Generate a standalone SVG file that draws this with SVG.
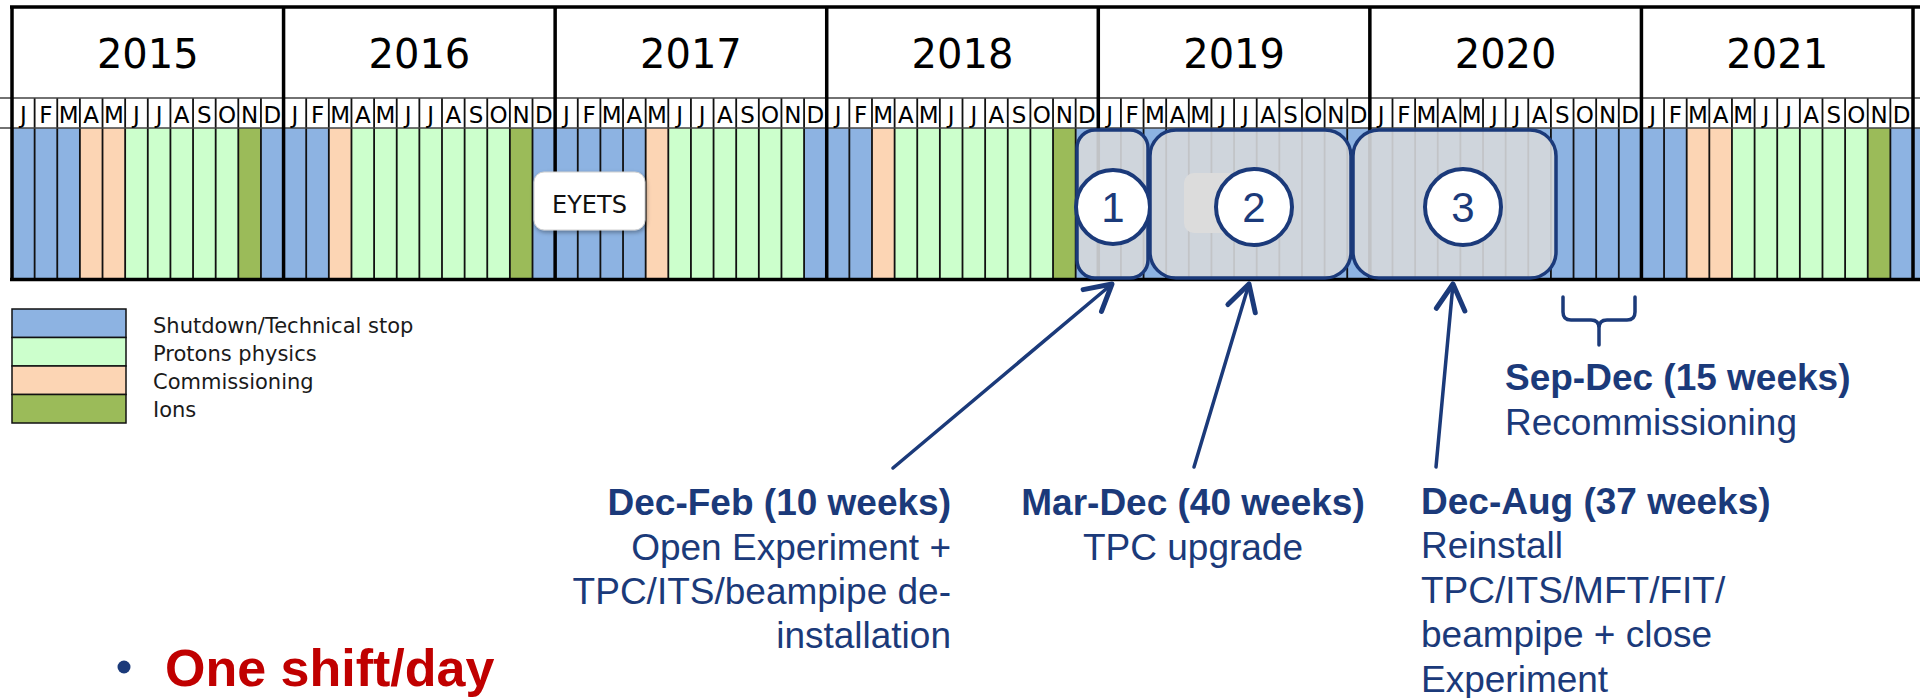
<svg xmlns="http://www.w3.org/2000/svg" width="1920" height="698" viewBox="0 0 1920 698">
<defs>
<style>
.yr{font-family:"DejaVu Sans",Verdana,sans-serif;font-size:40px;text-anchor:middle;fill:#000}
.mo{font-family:"DejaVu Sans",Verdana,sans-serif;font-size:23px;text-anchor:middle;fill:#000}
.lg{font-family:"DejaVu Sans",Verdana,sans-serif;font-size:21px;fill:#1a1a1a}
.lb{font-family:"Liberation Sans",Arial,sans-serif;font-size:37px;fill:#1b3a7a}
.b{font-weight:bold}
.blue{fill:#8db3e2}.grn{fill:#ccffcc}.pch{fill:#fcd5b4}.ion{fill:#9bbb59}
.conn{stroke:#1b3a7a;stroke-width:3.5;fill:none;stroke-linecap:round;stroke-linejoin:round}
.box{fill:#d6d8db;fill-opacity:.9;stroke:#1b3a7a;stroke-width:3.5}
.circ{fill:#fff;stroke:#1b3a7a;stroke-width:4}
.num{font-family:"Liberation Sans",Arial,sans-serif;font-size:42px;text-anchor:middle;fill:#1b3a7a}
</style>
<marker id="arr" markerUnits="userSpaceOnUse" orient="auto" refX="0" refY="0" markerWidth="40" markerHeight="40" viewBox="-22 -14 26 28" overflow="visible">
<path d="M-18 -10L0 0L-18 10" fill="none" stroke="#1b3a7a" stroke-width="3.5" stroke-linecap="round" stroke-linejoin="round"/>
</marker>
<filter id="sh" x="-20%" y="-20%" width="140%" height="150%">
<feDropShadow dx="1" dy="2" stdDeviation="2" flood-color="#000" flood-opacity="0.35"/>
</filter>
</defs>

<g id="timeline">
<rect x="12" y="7" width="1908" height="121" fill="#fff"/>
<rect class="blue" x="12" y="128" width="1908" height="151"/>
<g id="commissioning">
<rect class="pch" x="79.89" y="128" width="45.27" height="151"/>
<rect class="pch" x="328.83" y="128" width="22.64" height="151"/>
<rect class="pch" x="645.67" y="128" width="22.63" height="151"/>
<rect class="pch" x="871.98" y="128" width="22.63" height="151"/>
<rect class="pch" x="1686.69" y="128" width="45.26" height="151"/>
</g>
<g id="protons">
<rect class="grn" x="125.16" y="128" width="113.15" height="151"/>
<rect class="grn" x="351.47" y="128" width="158.41" height="151"/>
<rect class="grn" x="668.30" y="128" width="135.78" height="151"/>
<rect class="grn" x="894.61" y="128" width="158.42" height="151"/>
<rect class="grn" x="1731.95" y="128" width="135.79" height="151"/>
</g>
<g id="ions">
<rect class="ion" x="238.31" y="128" width="22.63" height="151"/>
<rect class="ion" x="509.88" y="128" width="22.63" height="151"/>
<rect class="ion" x="1053.03" y="128" width="22.63" height="151"/>
<rect class="ion" x="1867.74" y="128" width="22.63" height="151"/>
</g>
<path d="M34.63 98V279M57.26 98V279M79.89 98V279M102.52 98V279M125.16 98V279M147.79 98V279M170.42 98V279M193.05 98V279M215.68 98V279M238.31 98V279M260.94 98V279M306.20 98V279M328.83 98V279M351.47 98V279M374.10 98V279M396.73 98V279M419.36 98V279M441.99 98V279M464.62 98V279M487.25 98V279M509.88 98V279M532.51 98V279M577.77 98V279M600.40 98V279M623.04 98V279M645.67 98V279M668.30 98V279M690.93 98V279M713.56 98V279M736.19 98V279M758.82 98V279M781.45 98V279M804.08 98V279M849.35 98V279M871.98 98V279M894.61 98V279M917.24 98V279M939.87 98V279M962.50 98V279M985.14 98V279M1007.77 98V279M1030.40 98V279M1053.03 98V279M1075.66 98V279M1120.92 98V279M1143.55 98V279M1166.18 98V279M1188.81 98V279M1211.44 98V279M1234.08 98V279M1256.71 98V279M1279.34 98V279M1301.97 98V279M1324.60 98V279M1347.23 98V279M1392.49 98V279M1415.12 98V279M1437.75 98V279M1460.38 98V279M1483.02 98V279M1505.65 98V279M1528.28 98V279M1550.91 98V279M1573.54 98V279M1596.17 98V279M1618.80 98V279M1664.06 98V279M1686.69 98V279M1709.32 98V279M1731.95 98V279M1754.59 98V279M1777.22 98V279M1799.85 98V279M1822.48 98V279M1845.11 98V279M1867.74 98V279M1890.37 98V279" stroke="#111" stroke-width="1.8" fill="none"/>
<path d="M0 98H1920M0 128H1920" stroke="#444" stroke-width="1.5" fill="none"/>
<path d="M12 7V280M283.57 7V280M555.14 7V280M826.72 7V280M1098.29 7V280M1369.86 7V280M1641.43 7V280M1913 7V280M10 7H1920M10 279.5H1920" stroke="#000" stroke-width="3.5" fill="none"/>
<g id="years">
<text class="yr" x="147.8" y="68">2015</text>
<text class="yr" x="419.4" y="68">2016</text>
<text class="yr" x="690.9" y="68">2017</text>
<text class="yr" x="962.5" y="68">2018</text>
<text class="yr" x="1234.1" y="68">2019</text>
<text class="yr" x="1505.6" y="68">2020</text>
<text class="yr" x="1777.2" y="68">2021</text>
</g>
<g id="months">
<text class="mo" x="23.32 45.95 68.58 91.21 113.84 136.47 159.10 181.73 204.36 226.99 249.63 272.26" y="123">JFMAMJJASOND</text>
<text class="mo" x="294.89 317.52 340.15 362.78 385.41 408.04 430.67 453.30 475.93 498.56 521.20 543.83" y="123">JFMAMJJASOND</text>
<text class="mo" x="566.46 589.09 611.72 634.35 656.98 679.61 702.24 724.87 747.50 770.13 792.77 815.40" y="123">JFMAMJJASOND</text>
<text class="mo" x="838.04 860.67 883.30 905.93 928.56 951.19 973.82 996.45 1019.08 1041.71 1064.35 1086.98" y="123">JFMAMJJASOND</text>
<text class="mo" x="1109.61 1132.24 1154.87 1177.50 1200.13 1222.76 1245.39 1268.02 1290.65 1313.28 1335.92 1358.55" y="123">JFMAMJJASOND</text>
<text class="mo" x="1381.18 1403.81 1426.44 1449.07 1471.70 1494.33 1516.96 1539.59 1562.22 1584.85 1607.49 1630.12" y="123">JFMAMJJASOND</text>
<text class="mo" x="1652.75 1675.38 1698.01 1720.64 1743.27 1765.90 1788.53 1811.16 1833.79 1856.42 1879.06 1901.69" y="123">JFMAMJJASOND</text>
</g>
</g>

<g id="eyets">
<rect x="534" y="172" width="111" height="58" rx="10" fill="#fff" stroke="#d0d0d0" stroke-width="1" filter="url(#sh)"/>
<text x="589.5" y="213" font-family="DejaVu Sans, Verdana, sans-serif" font-size="24" text-anchor="middle" fill="#111">EYETS</text>
</g>

<g id="phase1">
<rect class="box" x="1077" y="130" width="71" height="148" rx="18"/>
<circle class="circ" cx="1113" cy="207" r="37"/>
<text class="num" x="1113" y="222">1</text>
</g>
<g id="phase2">
<rect class="box" x="1150" y="130" width="201" height="148" rx="26"/>
<rect x="1184" y="173" width="98" height="60" rx="10" fill="#dcdcdc"/>
<circle class="circ" cx="1254" cy="207" r="38"/>
<text class="num" x="1254" y="222">2</text>
</g>
<g id="phase3">
<rect class="box" x="1353" y="130" width="203" height="148" rx="26"/>
<circle class="circ" cx="1463" cy="207" r="38"/>
<text class="num" x="1463" y="222">3</text>
</g>

<g id="connectors">
<path class="conn" d="M893 468L1112 284" marker-end="url(#arr)"/>
<path class="conn" d="M1194 467L1249 284" marker-end="url(#arr)"/>
<path class="conn" d="M1436 467L1453 284" marker-end="url(#arr)"/>
<path class="conn" d="M1563 297V312Q1563 320 1571 320H1591Q1599 320 1599 328V345M1599 328Q1599 320 1607 320H1627Q1635 320 1635 312V297" stroke-width="4"/>
</g>

<g id="legend">
<rect class="blue" x="12" y="309" width="114" height="28.5" stroke="#111" stroke-width="1.5"/>
<rect class="grn" x="12" y="337.5" width="114" height="28.5" stroke="#111" stroke-width="1.5"/>
<rect class="pch" x="12" y="366" width="114" height="28.5" stroke="#111" stroke-width="1.5"/>
<rect class="ion" x="12" y="394.5" width="114" height="28.5" stroke="#111" stroke-width="1.5"/>
<text class="lg" x="153" y="333">Shutdown/Technical stop</text>
<text class="lg" x="153" y="361">Protons physics</text>
<text class="lg" x="153" y="389">Commissioning</text>
<text class="lg" x="153" y="417">Ions</text>
</g>

<g id="label1">
<text class="lb" text-anchor="end" x="951"><tspan class="b" x="951" y="515">Dec-Feb (10 weeks)</tspan><tspan x="951" y="560">Open Experiment +</tspan><tspan x="951" y="604">TPC/ITS/beampipe de-</tspan><tspan x="951" y="648">installation</tspan></text>
</g>
<g id="label2">
<text class="lb" text-anchor="middle"><tspan class="b" x="1193" y="515">Mar-Dec (40 weeks)</tspan><tspan x="1193" y="560">TPC upgrade</tspan></text>
</g>
<g id="label3">
<text class="lb"><tspan class="b" x="1421" y="514">Dec-Aug (37 weeks)</tspan><tspan x="1421" y="558">Reinstall</tspan><tspan x="1421" y="603">TPC/ITS/MFT/FIT/</tspan><tspan x="1421" y="647">beampipe + close</tspan><tspan x="1421" y="692">Experiment</tspan></text>
</g>
<g id="label4">
<text class="lb"><tspan class="b" x="1505" y="390">Sep-Dec (15 weeks)</tspan><tspan x="1505" y="435">Recommissioning</tspan></text>
</g>

<g id="bullet">
<circle cx="124" cy="667" r="6.5" fill="#1b3a7a"/>
<text x="165" y="686" font-family="Liberation Sans, Arial, sans-serif" font-size="52" font-weight="bold" fill="#c00000">One shift/day</text>
</g>
</svg>
